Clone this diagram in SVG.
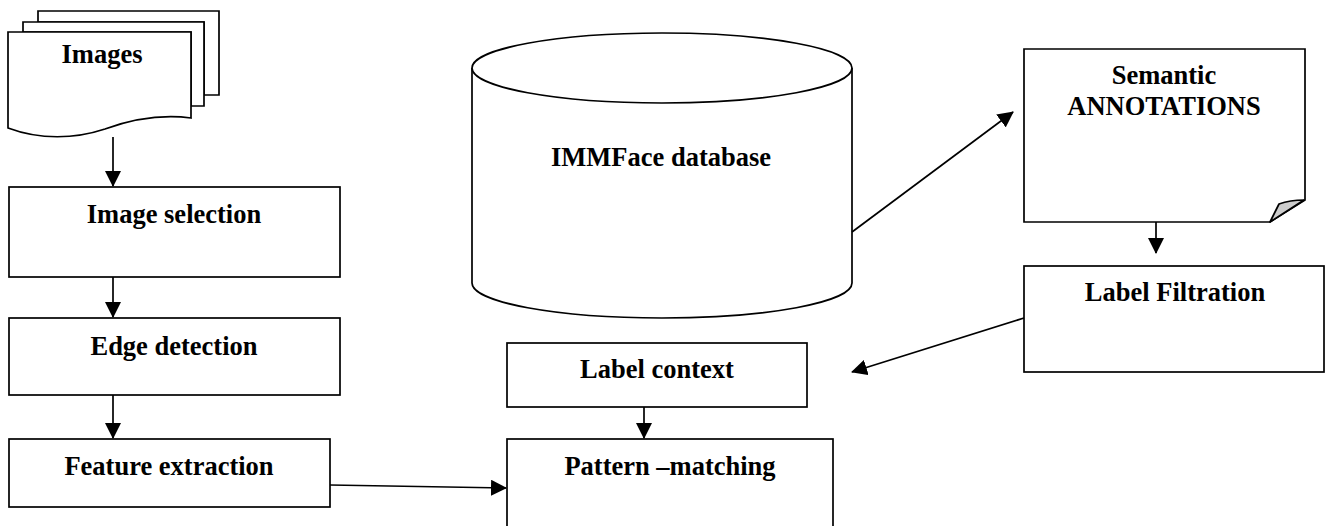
<svg xmlns="http://www.w3.org/2000/svg" width="1333" height="526" viewBox="0 0 1333 526">
<style>
.s{fill:#fff;stroke:#000;stroke-width:1.7}
.t{font-family:"Liberation Serif","Times New Roman",serif;font-weight:bold;font-size:26.5px;text-anchor:middle;fill:#000}
.c{stroke:#000;stroke-width:1.7;fill:none;marker-end:url(#ah)}
</style>
<defs>
<marker id="ah" markerUnits="userSpaceOnUse" markerWidth="16" markerHeight="16" viewBox="0 0 16 16" refX="15" refY="8" orient="auto">
<path d="M0,0 L16,8 L0,16 Z" fill="#000"/>
</marker>
</defs>
<rect width="1333" height="526" fill="#fff"/>
<g id="images">
<path class="s" d="M38,11 H219 V95 H204 V22 H38 Z"/>
<path class="s" d="M23,22 H204 V106 H191 V32 H23 Z"/>
<path class="s" d="M8,32 H191 V118 C160,114 130,120 105,129 C75,139 40,140 8,128 Z"/>
<text class="t" x="102" y="63">Images</text>
</g>
<g id="image-selection">
<rect class="s" x="9" y="187" width="331" height="90"/>
<text class="t" x="174" y="223">Image selection</text>
</g>
<g id="edge-detection">
<rect class="s" x="9" y="318" width="331" height="77"/>
<text class="t" x="174" y="355">Edge detection</text>
</g>
<g id="feature-extraction">
<rect class="s" x="9" y="439" width="321" height="68"/>
<text class="t" x="169" y="475">Feature extraction</text>
</g>
<g id="immface-database">
<path class="s" d="M472,68 V283 A190,35 0 0 0 852,283 V68 A190,35 0 0 0 472,68 Z"/>
<path class="s" d="M472,68 A190,35 0 0 0 852,68" fill="none"/>
<text class="t" x="661" y="166">IMMFace database</text>
</g>
<g id="semantic-annotations">
<path class="s" d="M1024,49 H1305 V200 L1270,222 H1024 Z"/>
<path d="M1270,222 L1279,204 Q1290,200 1304,200 Z" fill="#ccc" stroke="#000" stroke-width="1.7" stroke-linejoin="round"/>
<text class="t" x="1164" y="84">Semantic</text>
<text class="t" x="1164" y="115">ANNOTATIONS</text>
</g>
<g id="label-filtration">
<rect class="s" x="1024" y="266" width="300" height="106"/>
<text class="t" x="1175" y="301">Label Filtration</text>
</g>
<g id="label-context">
<rect class="s" x="507" y="343" width="300" height="64"/>
<text class="t" x="657" y="378">Label context</text>
</g>
<g id="pattern-matching">
<rect class="s" x="507" y="439" width="326" height="100"/>
<text class="t" x="670" y="475">Pattern –matching</text>
</g>
<g id="connectors">
<line class="c" x1="113" y1="137" x2="113" y2="186"/>
<line class="c" x1="113" y1="277" x2="113" y2="317"/>
<line class="c" x1="113" y1="395" x2="113" y2="438"/>
<line class="c" x1="330" y1="485" x2="506" y2="488"/>
<line class="c" x1="852" y1="232" x2="1013" y2="112"/>
<line class="c" x1="1156" y1="222" x2="1156" y2="253"/>
<line class="c" x1="1024" y1="318" x2="852" y2="372"/>
<line class="c" x1="644" y1="407" x2="644" y2="438"/>
</g>
</svg>
